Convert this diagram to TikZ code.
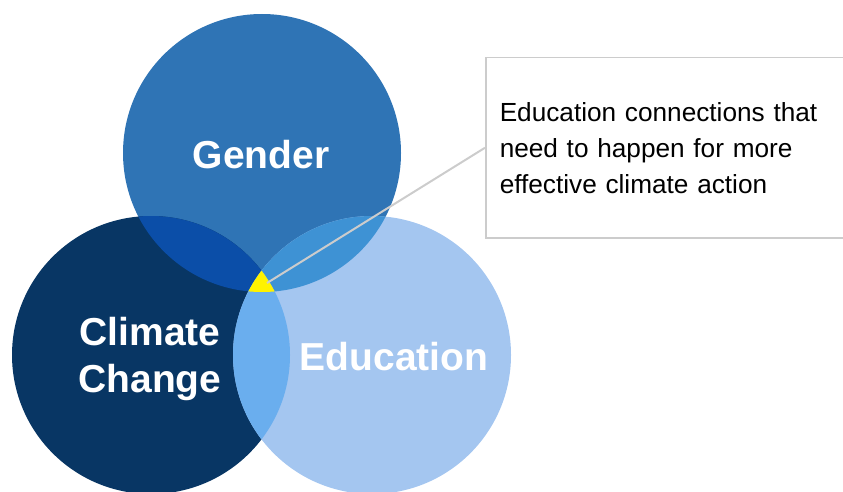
\documentclass[tikz,border=0pt]{standalone}
\usepackage{fontspec}
\setmainfont{Liberation Sans}
\definecolor{gendercol}{HTML}{2F74B5}
\definecolor{climatecol}{HTML}{083664}
\definecolor{educol}{HTML}{A4C6F0}
\definecolor{gcol}{HTML}{0B4EA8}
\definecolor{gecol}{HTML}{3E92D4}
\definecolor{cecol}{HTML}{6AAEEE}
\definecolor{corecol}{HTML}{FFF200}
\definecolor{notegray}{HTML}{CCCCCC}
\begin{document}
\begin{tikzpicture}[
  x=1pt, y=-1pt,
  set/.style={circle,inner sep=0pt,minimum size=278pt},
  setlabel/.style={text=white,font=\bfseries\fontsize{39}{47}\selectfont,align=center},
  note/.style={draw=notegray,line width=1.5pt,inner xsep=14pt,minimum height=180pt,
    text width=345pt,align=left,font=\fontsize{26.2}{36}\selectfont},
  pointer/.style={draw=notegray,line width=2pt}
]
  \useasboundingbox (0,0) rectangle (843,492);
  \node[set,fill=gendercol] (gender) at (262,153) {};
  \node[set,fill=climatecol] (climate) at (151,355) {};
  \node[set,fill=educol] (education) at (372,355) {};
  % overlaps
  \begin{scope}
    \clip (gender.center) circle[radius=139pt];
    \fill[gcol] (climate.center) circle[radius=139pt];
    \fill[gecol] (education.center) circle[radius=139pt];
  \end{scope}
  \begin{scope}
    \clip (climate.center) circle[radius=139pt];
    \fill[cecol] (education.center) circle[radius=139pt];
    \clip (education.center) circle[radius=139pt];
    \fill[corecol] (gender.center) circle[radius=139pt];
  \end{scope}
  \node[setlabel] (genderlabel) at (261,155) {Gender};
  \node[setlabel] (climatelabel) at (150,359) {Climate\\Change};
  \node[setlabel] (edulabel) at (394,357) {Education};
  % callout
  \node[note,anchor=north west] (callout) at (485,57)
    {Education connections that need to happen for more effective climate action};
  \coordinate (core) at (267,283);
  \draw[pointer] (core) -- (callout.west);
\end{tikzpicture}
\end{document}
